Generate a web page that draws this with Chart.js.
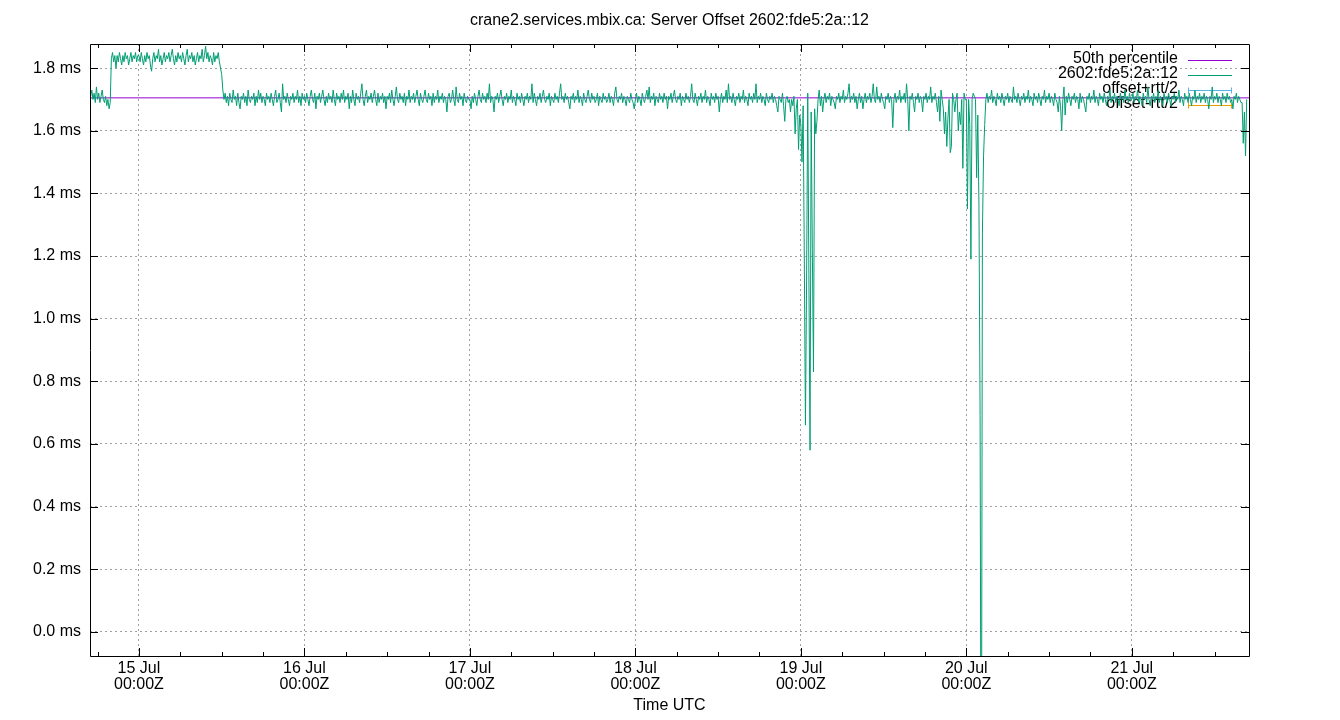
<!DOCTYPE html>
<html>
<head>
<meta charset="utf-8">
<title>crane2.services.mbix.ca: Server Offset</title>
<script src="https://cdn.jsdelivr.net/npm/chart.js@4/dist/chart.umd.min.js"></script>
<style>
  html, body { margin: 0; padding: 0; background: #fff; }
  #wrap { width: 1340px; height: 720px; }
</style>
</head>
<body>
<div id="wrap"><canvas id="chart" width="1340" height="720"></canvas></div>
<script>
// one sample every 10 minutes, first one at 14 Jul 17:00Z (hours relative to 15 Jul 00:00Z)
const startHour = -7;
const stepHours = 10 / 60;

const jul14 = [
  1.71, 1.73, 1.70, 1.72, 1.69, 1.74, 1.70, 1.72, 1.69, 1.71, 1.73, 1.70,
  1.69, 1.71, 1.68, 1.70, 1.67, 1.69,
  1.83, 1.85, 1.82, 1.84, 1.80, 1.84, 1.82, 1.85, 1.83, 1.81, 1.84, 1.82,
  1.85, 1.83, 1.84, 1.81, 1.83, 1.85, 1.82, 1.84, 1.83, 1.85, 1.82, 1.84
];
const jul15 = [
  1.84, 1.82, 1.85, 1.83, 1.81, 1.84, 1.82, 1.85, 1.83, 1.84, 1.81, 1.79,
  1.83, 1.85, 1.82, 1.84, 1.83, 1.86, 1.82, 1.84, 1.81, 1.83, 1.85, 1.82,
  1.84, 1.83, 1.85, 1.82, 1.84, 1.86, 1.83, 1.81, 1.84, 1.82, 1.85, 1.83,
  1.84, 1.82, 1.85, 1.83, 1.81, 1.84, 1.86, 1.82, 1.84, 1.83, 1.85, 1.82,
  1.84, 1.81, 1.83, 1.85, 1.82, 1.84, 1.83, 1.86, 1.82, 1.84, 1.87, 1.83,
  1.85, 1.82, 1.84, 1.83, 1.81, 1.85, 1.82, 1.84, 1.83, 1.85, 1.82, 1.80,
  1.78, 1.73,
  1.70, 1.72, 1.69, 1.71, 1.68, 1.72, 1.70, 1.69, 1.73, 1.70, 1.71, 1.68,
  1.72, 1.69, 1.67, 1.71, 1.70, 1.72, 1.69, 1.71, 1.68, 1.73, 1.70, 1.69,
  1.71, 1.70, 1.72, 1.68, 1.71, 1.69, 1.73, 1.70, 1.72, 1.69, 1.71, 1.70,
  1.68, 1.72, 1.70, 1.71, 1.69, 1.72, 1.70, 1.68, 1.71, 1.73, 1.69, 1.70,
  1.72, 1.69, 1.66, 1.75, 1.70, 1.71, 1.69, 1.72, 1.70, 1.68, 1.71, 1.70,
  1.72, 1.69, 1.71, 1.70, 1.73, 1.69, 1.71, 1.68, 1.72, 1.70
];
const jul16 = [
  1.71, 1.69, 1.72, 1.70, 1.68, 1.71, 1.73, 1.70, 1.69, 1.72, 1.67, 1.71,
  1.70, 1.72, 1.69, 1.71, 1.73, 1.70, 1.68, 1.71, 1.69, 1.72, 1.70, 1.71,
  1.69, 1.73, 1.70, 1.68, 1.72, 1.70, 1.71, 1.69, 1.72, 1.70, 1.73, 1.69,
  1.71, 1.70, 1.72, 1.67, 1.71, 1.69, 1.73, 1.70, 1.68, 1.72, 1.70, 1.71,
  1.69, 1.72, 1.75, 1.70, 1.68, 1.71, 1.73, 1.69, 1.71, 1.70, 1.72, 1.69,
  1.71, 1.73, 1.70, 1.68, 1.72, 1.69, 1.71, 1.70, 1.72, 1.69, 1.71, 1.67,
  1.71, 1.70, 1.72, 1.69, 1.73, 1.70, 1.68, 1.71, 1.74, 1.70, 1.69, 1.72,
  1.70, 1.71, 1.69, 1.72, 1.68, 1.71, 1.70, 1.73, 1.69, 1.71, 1.70, 1.72,
  1.69, 1.71, 1.73, 1.70, 1.68, 1.72, 1.70, 1.69, 1.71, 1.73, 1.70, 1.69,
  1.72, 1.70, 1.71, 1.68, 1.72, 1.69, 1.71, 1.70, 1.73, 1.69, 1.71, 1.70,
  1.72, 1.69, 1.71, 1.70, 1.66, 1.71, 1.72, 1.69, 1.70, 1.73, 1.70, 1.68,
  1.74, 1.70, 1.69, 1.72, 1.70, 1.71, 1.68, 1.72, 1.70, 1.69, 1.71, 1.70
];
const jul17 = [
  1.70, 1.67, 1.71, 1.69, 1.72, 1.70, 1.68, 1.71, 1.73, 1.70, 1.69, 1.72,
  1.70, 1.71, 1.69, 1.72, 1.70, 1.75, 1.69, 1.71, 1.70, 1.66, 1.71, 1.70,
  1.72, 1.69, 1.71, 1.73, 1.70, 1.68, 1.71, 1.70, 1.72, 1.69, 1.71, 1.70,
  1.73, 1.69, 1.71, 1.70, 1.68, 1.72, 1.70, 1.71, 1.69, 1.72, 1.70, 1.68,
  1.71, 1.70, 1.72, 1.69, 1.71, 1.70, 1.75, 1.69, 1.72, 1.70, 1.68, 1.71,
  1.70, 1.72, 1.69, 1.71, 1.73, 1.70, 1.69, 1.71, 1.70, 1.72, 1.68, 1.71,
  1.70, 1.69, 1.72, 1.70, 1.71, 1.69, 1.72, 1.75, 1.70, 1.71, 1.69, 1.72,
  1.70, 1.71, 1.69, 1.67, 1.71, 1.70, 1.72, 1.69, 1.71, 1.70, 1.73, 1.69,
  1.71, 1.70, 1.68, 1.72, 1.70, 1.69, 1.71, 1.73, 1.70, 1.69, 1.72, 1.70,
  1.71, 1.69, 1.70, 1.72, 1.68, 1.71, 1.70, 1.69, 1.72, 1.70, 1.71, 1.69,
  1.70, 1.72, 1.69, 1.71, 1.70, 1.68, 1.72, 1.74, 1.70, 1.69, 1.71, 1.70,
  1.72, 1.69, 1.71, 1.70, 1.68, 1.71, 1.70, 1.69, 1.72, 1.70, 1.69, 1.67
];
const jul18 = [
  1.70, 1.72, 1.69, 1.71, 1.70, 1.68, 1.72, 1.70, 1.69, 1.71, 1.73, 1.70,
  1.74, 1.69, 1.71, 1.70, 1.72, 1.68, 1.71, 1.70, 1.69, 1.72, 1.70, 1.71,
  1.69, 1.72, 1.70, 1.71, 1.67, 1.71, 1.70, 1.72, 1.69, 1.71, 1.73, 1.70,
  1.69, 1.71, 1.70, 1.72, 1.68, 1.71, 1.70, 1.69, 1.72, 1.70, 1.71, 1.69,
  1.71, 1.75, 1.70, 1.69, 1.72, 1.70, 1.68, 1.71, 1.70, 1.72, 1.69, 1.71,
  1.70, 1.73, 1.69, 1.71, 1.70, 1.68, 1.72, 1.70, 1.71, 1.69, 1.72, 1.70,
  1.71, 1.66, 1.70, 1.72, 1.69, 1.71, 1.70, 1.73, 1.69, 1.75, 1.70, 1.71,
  1.69, 1.72, 1.70, 1.68, 1.71, 1.70, 1.72, 1.69, 1.71, 1.70, 1.73, 1.69,
  1.71, 1.70, 1.68, 1.72, 1.70, 1.71, 1.69, 1.72, 1.70, 1.75, 1.69, 1.71,
  1.70, 1.72, 1.69, 1.71, 1.70, 1.68, 1.72, 1.70, 1.69, 1.71, 1.70, 1.72,
  1.69, 1.71, 1.70, 1.68, 1.66, 1.71, 1.70, 1.69, 1.72, 1.68, 1.63, 1.70,
  1.71, 1.69, 1.70, 1.66, 1.70, 1.68, 1.71, 1.59, 1.67, 1.70, 1.54, 1.65
];
const jul19 = [
  1.62, 1.50, 1.68, 1.20, 0.66, 1.12, 1.72, 1.14, 0.58, 1.66, 1.22, 0.83,
  1.67, 1.59, 1.63, 1.70, 1.73, 1.68, 1.71, 1.66, 1.70, 1.72, 1.69, 1.71,
  1.70, 1.72, 1.68, 1.71, 1.70, 1.69, 1.67, 1.71, 1.70, 1.72, 1.69, 1.71,
  1.70, 1.73, 1.69, 1.71, 1.70, 1.72, 1.75, 1.69, 1.71, 1.70, 1.72, 1.69,
  1.71, 1.67, 1.70, 1.72, 1.69, 1.71, 1.67, 1.70, 1.72, 1.69, 1.71, 1.70,
  1.72, 1.69, 1.71, 1.75, 1.70, 1.69, 1.74, 1.70, 1.71, 1.69, 1.72, 1.70,
  1.69, 1.67, 1.71, 1.70, 1.72, 1.69, 1.71, 1.70, 1.61, 1.70, 1.72, 1.69,
  1.71, 1.70, 1.73, 1.69, 1.71, 1.70, 1.72, 1.69, 1.75, 1.70, 1.60, 1.71,
  1.70, 1.72, 1.69, 1.66, 1.71, 1.70, 1.72, 1.69, 1.71, 1.70, 1.66, 1.71,
  1.70, 1.72, 1.69, 1.71, 1.70, 1.74, 1.69, 1.71, 1.70, 1.72, 1.69, 1.66,
  1.71, 1.63, 1.73, 1.70, 1.67, 1.59, 1.66, 1.55, 1.64, 1.70, 1.53, 1.55,
  1.72, 1.70, 1.66, 1.70, 1.72, 1.60, 1.66, 1.62, 1.70, 1.48, 1.72, 1.70
];
const jul20 = [
  1.70, 1.35, 1.70, 1.62, 1.19, 1.70, 1.72, 1.71, 1.70, 1.45, 1.65, 1.36,
  0.69, -0.90, 1.27, 1.52, 1.62, 1.70, 1.72, 1.69, 1.71, 1.70, 1.73, 1.69,
  1.71, 1.70, 1.68, 1.72, 1.70, 1.71, 1.69, 1.72, 1.70, 1.68, 1.71, 1.70,
  1.72, 1.69, 1.71, 1.70, 1.69, 1.74, 1.70, 1.71, 1.69, 1.72, 1.70, 1.68,
  1.71, 1.70, 1.72, 1.69, 1.71, 1.70, 1.73, 1.69, 1.71, 1.70, 1.68, 1.72,
  1.70, 1.71, 1.69, 1.72, 1.70, 1.68, 1.71, 1.70, 1.73, 1.69, 1.71, 1.70,
  1.72, 1.69, 1.71, 1.70, 1.68, 1.72, 1.70, 1.69, 1.66, 1.71, 1.68, 1.60,
  1.70, 1.74, 1.65, 1.71, 1.69, 1.72, 1.70, 1.68, 1.71, 1.70, 1.72, 1.69,
  1.71, 1.70, 1.67, 1.72, 1.69, 1.71, 1.70, 1.68, 1.66, 1.71, 1.70, 1.72,
  1.69, 1.71, 1.70, 1.73, 1.69, 1.71, 1.70, 1.68, 1.72, 1.70, 1.71, 1.69,
  1.72, 1.70, 1.68, 1.71, 1.70, 1.73, 1.69, 1.71, 1.70, 1.72, 1.69, 1.71,
  1.70, 1.68, 1.72, 1.70, 1.71, 1.69, 1.73, 1.70, 1.71, 1.69, 1.72, 1.70
];
const jul21 = [
  1.70, 1.72, 1.69, 1.71, 1.70, 1.73, 1.69, 1.71, 1.70, 1.68, 1.72, 1.70,
  1.71, 1.69, 1.74, 1.70, 1.68, 1.71, 1.70, 1.72, 1.69, 1.71, 1.70, 1.73,
  1.69, 1.71, 1.70, 1.68, 1.72, 1.70, 1.71, 1.69, 1.72, 1.70, 1.68, 1.71,
  1.70, 1.72, 1.69, 1.71, 1.70, 1.73, 1.69, 1.71, 1.70, 1.68, 1.72, 1.70,
  1.71, 1.69, 1.72, 1.70, 1.68, 1.71, 1.70, 1.73, 1.69, 1.71, 1.70, 1.72,
  1.69, 1.71, 1.70, 1.72, 1.69, 1.71, 1.70, 1.67, 1.71, 1.70, 1.74, 1.69,
  1.71, 1.70, 1.72, 1.69, 1.71, 1.70, 1.68, 1.72, 1.70, 1.71, 1.69, 1.72,
  1.70, 1.71, 1.69, 1.70, 1.67, 1.71, 1.70, 1.72, 1.69, 1.71, 1.70, 1.69,
  1.69, 1.56, 1.66, 1.52, 1.70
];

const medianValue = 1.705;

const xMin = -7.1;
const xMax = 161;
const xTickHours = [0, 24, 48, 72, 96, 120, 144];
const xTickLabels = [
  ['15 Jul', '00:00Z'], ['16 Jul', '00:00Z'], ['17 Jul', '00:00Z'], ['18 Jul', '00:00Z'],
  ['19 Jul', '00:00Z'], ['20 Jul', '00:00Z'], ['21 Jul', '00:00Z']
];
const yMin = -0.077;
const yMax = 1.877;
const yTicks = [0.0, 0.2, 0.4, 0.6, 0.8, 1.0, 1.2, 1.4, 1.6, 1.8];

const titleText = 'crane2.services.mbix.ca: Server Offset 2602:fde5:2a::12';
const xTitle = 'Time UTC';
const fontFamily = '"Liberation Sans", Arial, sans-serif';

const offsets = [].concat(jul14, jul15, jul16, jul17, jul18, jul19, jul20, jul21);
const offsetPoints = offsets.map((v, i) => ({ x: startHour + i * stepHours, y: v }));

const gnuplotLook = {
  id: 'gnuplotLook',
  beforeDatasetsDraw(chart) {
    // key in the top right corner, drawn under the data like gnuplot does
    const ctx = chart.ctx;
    ctx.save();
    ctx.font = '16px ' + fontFamily;
    ctx.textAlign = 'right';
    ctx.textBaseline = 'middle';
    chart.data.datasets.forEach((ds, k) => {
      const y = 59 + k * 15;
      ctx.fillStyle = '#000';
      ctx.fillText(ds.label, 1178, y);
      ctx.strokeStyle = ds.borderColor;
      ctx.lineWidth = 1;
      ctx.beginPath();
      ctx.moveTo(1188, y + 1.5);
      ctx.lineTo(1232, y + 1.5);
      if (ds.data.length === 0) {
        ctx.moveTo(1188.5, y - 1.5);
        ctx.lineTo(1188.5, y + 4.5);
        ctx.moveTo(1231.5, y - 1.5);
        ctx.lineTo(1231.5, y + 4.5);
      }
      ctx.stroke();
    });
    ctx.restore();
  },
  afterDraw(chart) {
    const ctx = chart.ctx;
    const a = chart.chartArea;
    const xs = chart.scales.x;
    const ys = chart.scales.y;
    ctx.save();
    ctx.strokeStyle = '#000';
    ctx.lineWidth = 1;
    ctx.beginPath();
    ctx.rect(Math.round(a.left) + 0.5, Math.round(a.top) + 0.5,
      Math.round(a.right - a.left), Math.round(a.bottom - a.top));
    yTicks.forEach(v => {
      const y = Math.round(ys.getPixelForValue(v)) + 0.5;
      ctx.moveTo(a.left, y); ctx.lineTo(a.left + 8, y);
      ctx.moveTo(a.right, y); ctx.lineTo(a.right - 8, y);
    });
    for (let h = -6; h <= xMax; h += 6) {
      const x = Math.round(xs.getPixelForValue(h)) + 0.5;
      const len = h % 24 === 0 ? 8 : 4;
      ctx.moveTo(x, a.bottom); ctx.lineTo(x, a.bottom - len);
      ctx.moveTo(x, a.top); ctx.lineTo(x, a.top + len);
    }
    ctx.stroke();

    ctx.fillStyle = '#000';
    ctx.font = '16px ' + fontFamily;
    ctx.textAlign = 'center';
    ctx.textBaseline = 'middle';
    const cx = (a.left + a.right) / 2;
    ctx.fillText(titleText, cx, 21);
    ctx.fillText(xTitle, cx, 706);
    ctx.restore();
  }
};

new Chart(document.getElementById('chart').getContext('2d'), {
  type: 'line',
  data: {
    datasets: [
      {
        label: '50th percentile',
        data: [{ x: xMin, y: medianValue }, { x: xMax, y: medianValue }],
        borderColor: '#9400d3',
        borderWidth: 1,
        pointRadius: 0,
        order: 2
      },
      {
        label: '2602:fde5:2a::12',
        data: offsetPoints,
        borderColor: '#009e73',
        borderWidth: 1,
        pointRadius: 0,
        tension: 0,
        order: 1
      },
      {
        label: 'offset+rtt/2',
        data: [],
        borderColor: '#56b4e9',
        borderWidth: 1,
        pointRadius: 0,
        order: 3
      },
      {
        label: 'offset-rtt/2',
        data: [],
        borderColor: '#e69f00',
        borderWidth: 1,
        pointRadius: 0,
        order: 4
      }
    ]
  },
  options: {
    responsive: false,
    animation: false,
    layout: { padding: { top: 44, right: 91, left: 0, bottom: 0 } },
    plugins: {
      legend: { display: false },
      tooltip: { enabled: false },
      title: { display: false }
    },
    scales: {
      x: {
        type: 'linear',
        min: xMin,
        max: xMax,
        afterBuildTicks: scale => { scale.ticks = xTickHours.map(v => ({ value: v })); },
        afterFit: scale => { scale.height = 64; },
        ticks: {
          autoSkip: false,
          maxRotation: 0,
          padding: 5,
          color: '#000',
          font: { family: fontFamily, size: 16, lineHeight: '16px' },
          callback: value => xTickLabels[xTickHours.indexOf(value)]
        },
        grid: { color: '#a0a0a0', lineWidth: 1, drawTicks: false },
        border: { display: false, dash: [2, 3] }
      },
      y: {
        min: yMin,
        max: yMax,
        afterBuildTicks: scale => { scale.ticks = yTicks.map(v => ({ value: v })); },
        afterFit: scale => { scale.width = 90; },
        ticks: {
          padding: 9,
          color: '#000',
          font: { family: fontFamily, size: 16 },
          callback: value => value.toFixed(1) + ' ms'
        },
        grid: { color: '#a0a0a0', lineWidth: 1, drawTicks: false },
        border: { display: false, dash: [2, 3] }
      }
    }
  },
  plugins: [gnuplotLook]
});
</script>
</body>
</html>
